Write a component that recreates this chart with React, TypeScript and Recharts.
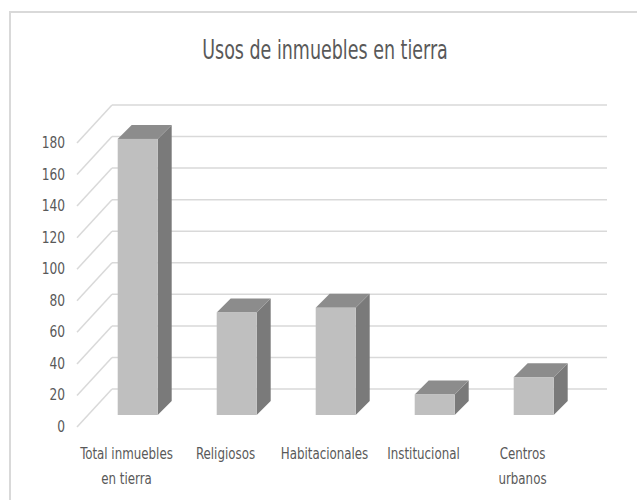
import React from "react";
import { Bar, BarChart, CartesianGrid, XAxis, YAxis } from "recharts";

const categories = [
  "Total inmuebles\nen tierra",
  "Religiosos",
  "Habitacionales",
  "Institucional",
  "Centros\nurbanos",
];
const values = [175, 65, 68, 13, 24];
const yTicks = [0, 20, 40, 60, 80, 100, 120, 140, 160, 180];

const data = categories.map((name, i) => ({ name, value: values[i] }));

const FONT = "'Liberation Sans Narrow', 'DejaVu Sans Condensed', 'Liberation Sans', sans-serif";
const TEXT = "#595959";
const GRID = "#d9d9d9";

// depth of the back wall and of each box, in px
const WALL_DX = 35;
const WALL_DY = 38;
const BAR_OFF_X = 11;
const BAR_OFF_Y = 12;
const BOX_DX = 14;
const BOX_DY = 14;

function GridLine(props: any) {
  const { x1, y1, x2 } = props;
  return (
    <g>
      <line x1={x1} y1={y1} x2={x1 + WALL_DX} y2={y1 - WALL_DY} stroke={GRID} strokeWidth={1.5} />
      <line
        x1={x1 + WALL_DX}
        y1={y1 - WALL_DY}
        x2={x2 + WALL_DX}
        y2={y1 - WALL_DY}
        stroke={GRID}
        strokeWidth={1.5}
      />
    </g>
  );
}

function Box3D(props: any) {
  const { x, y, width: w, height: h } = props;
  if (h == null || w == null) return null;
  const fx = x + BAR_OFF_X;
  const fy = y - BAR_OFF_Y;
  const top = `${fx},${fy} ${fx + BOX_DX},${fy - BOX_DY} ${fx + w + BOX_DX},${fy - BOX_DY} ${fx + w},${fy}`;
  const side = `${fx + w},${fy} ${fx + w + BOX_DX},${fy - BOX_DY} ${fx + w + BOX_DX},${fy + h - BOX_DY} ${fx + w},${fy + h}`;
  return (
    <g>
      <polygon points={side} fill="#7a7a7a" />
      <polygon points={top} fill="#8c8c8c" />
      <rect x={fx} y={fy} width={w} height={h} fill="#bfbfbf" />
    </g>
  );
}

function CategoryTick(props: any) {
  const { x, y, payload } = props;
  const lines = String(payload.value).split("\n");
  return (
    <g transform={`translate(${x},${y}) scale(0.88,1)`}>
      <text x={0} y={0} textAnchor="middle" fill={TEXT} fontSize={15} fontFamily={FONT}>
        {lines.map((line, i) => (
          <tspan key={i} x={0} dy={i === 0 ? 24 : 25}>
            {line}
          </tspan>
        ))}
      </text>
    </g>
  );
}

function ValueTick(props: any) {
  const { x, y, payload } = props;
  return (
    <g transform={`translate(${x},${y}) scale(0.85,1)`}>
      <text x={0} y={0} dy={5} textAnchor="end" fill={TEXT} fontSize={16} fontFamily={FONT}>
        {payload.value}
      </text>
    </g>
  );
}

export default function App() {
  return (
    <div style={{ position: "absolute", left: 0, top: 0, width: 637, height: 500, background: "#fff", overflow: "hidden" }}>
      <div
        style={{
          position: "absolute",
          left: 9,
          top: 11,
          width: 700,
          height: 600,
          borderTop: `2px solid ${GRID}`,
          borderLeft: `2px solid ${GRID}`,
        }}
      />
      <div
        style={{
          position: "absolute",
          left: 0,
          top: 34,
          width: 650,
          textAlign: "center",
          fontFamily: FONT,
          fontSize: 27,
          color: TEXT,
          transform: "scaleX(0.72)",
          transformOrigin: "325px 0",
        }}
      >
        Usos de inmuebles en tierra
      </div>
      <div style={{ position: "absolute", left: 0, top: 0 }}>
        <BarChart
          width={637}
          height={500}
          data={data}
          margin={{ top: 143, right: 65, bottom: 13, left: 37 }}
          barCategoryGap="30%"
        >
          <CartesianGrid vertical={false} horizontal={(p: any) => <GridLine key={p.key} {...p} />} />
          <XAxis
            dataKey="name"
            axisLine={false}
            tickLine={false}
            interval={0}
            height={60}
            tick={<CategoryTick />}
          />
          <YAxis
            domain={[0, 180]}
            ticks={yTicks}
            axisLine={false}
            tickLine={false}
            tickSize={0}
            tickMargin={12}
            width={40}
            tick={<ValueTick />}
          />
          <Bar dataKey="value" shape={<Box3D />} isAnimationActive={false} />
        </BarChart>
      </div>
    </div>
  );
}
